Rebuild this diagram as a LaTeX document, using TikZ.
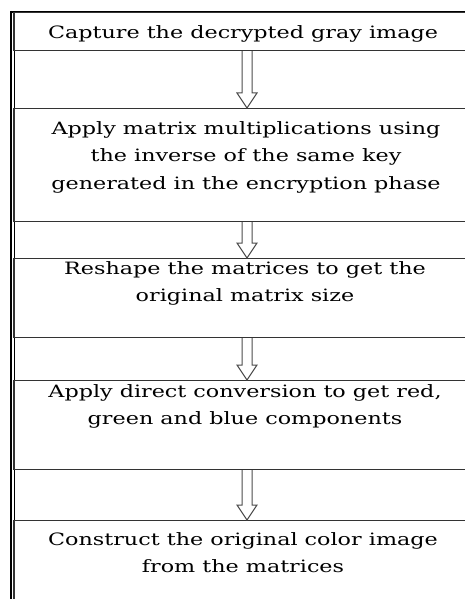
\documentclass[tikz,border=0pt]{standalone}
\usepackage{fontspec}
\setmainfont{DejaVu Serif}
\usetikzlibrary{calc}

% stretched text line, as set in the flow chart
\newcommand\wideline[1]{\scalebox{1.31}[1]{#1}}

% hollow block arrow from the bottom of one box to the top of the next
\newcommand\hollowarrow[2]{%
  \draw[arrowline] let \p1=(#1.south), \p2=(#2.north) in
    (\x1-3pt,\y1) -- (\x1-3pt,\y2+15pt) -- (\x1-8pt,\y2+15pt) --
    (\x1+2pt,\y2) -- (\x1+12pt,\y2+15pt) -- (\x1+7pt,\y2+15pt) --
    (\x1+7pt,\y1);}

\tikzset{
  stepbox/.style={draw=black!80, line width=1.1pt, rectangle, inner sep=0pt,
    minimum width=462pt, anchor=north},
  steptext/.style={align=center, inner sep=0pt, anchor=north,
    font=\fontsize{17}{27.5}\selectfont},
  arrowline/.style={draw=black!70, line width=1pt, line join=miter}
}

\begin{document}
\begin{tikzpicture}[x=1pt, y=-1pt]
  \useasboundingbox (0,0) rectangle (464,599);
  \fill[white] (0,0) rectangle (464,599);

  % outer frame
  \draw[line width=2pt] (10.5,12) -- (480,12);
  \draw[line width=1.4pt] (11,11) -- (11,620);
  \draw[line width=1pt] (14.5,12) -- (14.5,620);

  % process steps
  \node[stepbox, minimum height=38pt] (b1) at (245,12) {};
  \node[stepbox, minimum height=113pt] (b2) at (245,108) {};
  \node[stepbox, minimum height=79pt] (b3) at (245,258) {};
  \node[stepbox, minimum height=89pt] (b4) at (245,380) {};
  \node[stepbox, minimum height=100pt] (b5) at (245,520) {};

  \node[steptext] (t1) at (243,25.5)
    {\wideline{Capture the decrypted gray image}};
  \node[steptext] (t2) at (246,121)
    {\wideline{Apply matrix multiplications using}\\
     \wideline{the inverse of the same key}\\
     \wideline{generated in the encryption phase}};
  \node[steptext] (t3) at (245,261)
    {\wideline{Reshape the matrices to get the}\\
     \wideline{original matrix size}};
  \node[steptext] (t4) at (245,384)
    {\wideline{Apply direct conversion to get red,}\\
     \wideline{green and blue components}};
  \node[steptext] (t5) at (243,532)
    {\wideline{Construct the original color image}\\
     \wideline{from the matrices}};

  % flow arrows
  \hollowarrow{b1}{b2}
  \hollowarrow{b2}{b3}
  \hollowarrow{b3}{b4}
  \hollowarrow{b4}{b5}
\end{tikzpicture}
\end{document}
